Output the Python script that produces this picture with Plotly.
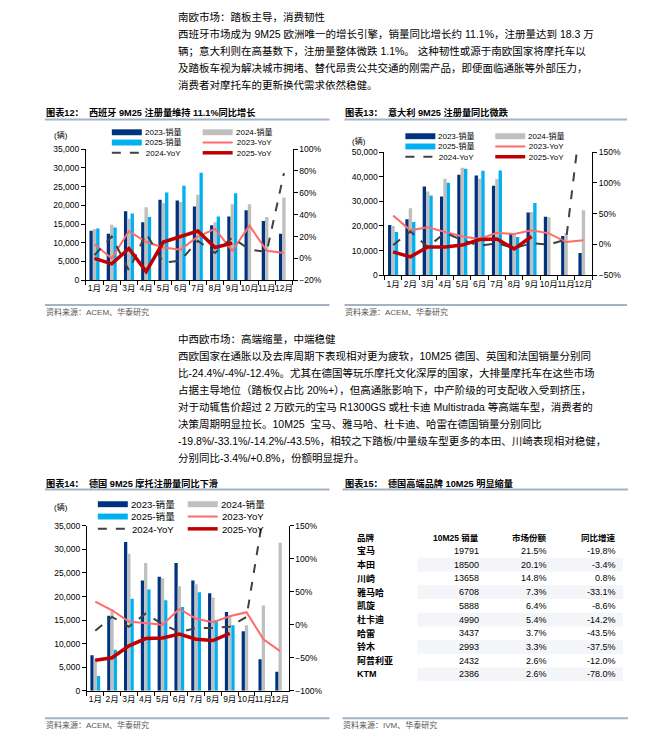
import plotly.graph_objects as go

W, H = 672, 745
LATIN = "Liberation Sans, Arial, Noto Sans CJK SC, sans-serif"

MONTHS = [f"{i}月" for i in range(1, 13)]

# 图表12 西班牙
ES_2023 = [13200, 12400, 18400, 15500, 21500, 21300, 19700, 14700, 17000, 18700, 15800, 12400]
ES_2024 = [13700, 14800, 16400, 19500, 20600, 20900, 22800, 15500, 20300, 20300, 16900, 22100]
ES_2025 = [13800, 14100, 17800, 16900, 23400, 25200, 28700, 17000, 23200, None, None, None]
ES_YOY_2023 = [13, 0, 25, 15, 10, 8, 20, 27, 7, 30, 7, 5]
ES_YOY_2024 = [3, 20, -11, 23, -4, -2, 16, 5, 19, 8, 6, 78]
ES_YOY_2025 = [0, -5, 9, -12, 15, 20, 25, 10, 14, None, None, None]

# 图表13 意大利
IT_2023 = [20400, 22700, 36000, 32000, 40800, 40500, 36300, 17200, 25500, 23700, 15900, 9100]
IT_2024 = [20000, 27200, 34000, 39200, 43600, 39300, 39100, 16700, 25700, 23500, 17100, 26400]
IT_2025 = [17600, 21600, 32400, 37500, 43200, 42400, 42500, 15500, 29300, None, None, None]
IT_YOY_2023 = [47, 23, 28, 21, 13, 9, 19, 17, 23, 18, 4, 7]
IT_YOY_2024 = [-1, 21, -4, 19, 7, -2, 2, -6, 2, 0, 8, 240]
IT_YOY_2025 = [-12, -20, -4, -4, -1, 8, 9, -7, 13, None, None, None]

# 图表14 德国
DE_2023 = [7500, 15900, 31600, 23400, 24200, 27100, 23400, 20700, 16700, 12600, 6700, 4000]
DE_2024 = [6800, 17300, 29100, 27100, 23900, 22200, 22600, 19800, 15700, 13900, 18100, 31400]
DE_2025 = [3100, 8700, 19500, 21500, 19200, 17800, 20900, 15000, 13900, None, None, None]
DE_YOY_2023 = [35, 22, 5, 2, 0, 24, 9, 4, 13, 19, -22, -40]
DE_YOY_2024 = [-9, 12, -3, 17, 1, -11, -5, -5, -3, 12, 168, 680]
DE_YOY_2025 = [-54, -50, -32, -21, -20, -14, -22, -24, -13, None, None, None]

# 图表15 德国高端品牌
BRANDS = ["宝马", "本田", "川崎", "雅马哈", "凯旋", "杜卡迪", "哈雷", "铃木", "阿普利亚", "KTM"]
SALES_10M25 = [19791, 18500, 13658, 6708, 5888, 4990, 3437, 2993, 2432, 2386]
SHARE = ["21.5%", "20.1%", "14.8%", "7.3%", "6.4%", "5.4%", "3.7%", "3.3%", "2.6%", "2.6%"]
YOY_10M25 = ["-19.8%", "-3.4%", "0.8%", "-33.1%", "-8.6%", "-14.2%", "-43.5%", "-37.5%", "-12.0%", "-78.0%"]
TABLE_HEAD = ["品牌", "10M25 销量", "市场份额", "同比增速"]

TEXT_SOUTH = [
    "南欧市场：踏板主导，消费韧性",
    "西班牙市场成为 9M25 欧洲唯一的增长引擎，销量同比增长约 11.1%，注册量达到 18.3 万",
    "辆；意大利则在高基数下，注册量整体微跌 1.1%。 这种韧性或源于南欧国家将摩托车以",
    "及踏板车视为解决城市拥堵、替代昂贵公共交通的刚需产品，即便面临通胀等外部压力，",
    "消费者对摩托车的更新换代需求依然稳健。",
]
TEXT_WEST = [
    "中西欧市场：高端缩量，中端稳健",
    "西欧国家在通胀以及去库周期下表现相对更为疲软，10M25 德国、英国和法国销量分别同",
    "比-24.4%/-4%/-12.4%。尤其在德国等玩乐摩托文化深厚的国家，大排量摩托车在这些市场",
    "占据主导地位（踏板仅占比 20%+），但高通胀影响下，中产阶级的可支配收入受到挤压，",
    "对于动辄售价超过 2 万欧元的宝马 R1300GS 或杜卡迪 Multistrada 等高端车型，消费者的",
    "决策周期明显拉长。10M25  宝马、雅马哈、杜卡迪、哈雷在德国销量分别同比",
    "-19.8%/-33.1%/-14.2%/-43.5%，相较之下踏板/中量级车型更多的本田、川崎表现相对稳健，",
    "分别同比-3.4%/+0.8%，份额明显提升。",
]

C2023, C2024, C2025 = "#00337F", "#BFBFBF", "#00B0F0"
L2023, L2024, L2025 = "#FF6B6B", "#404040", "#C00000"
RULE = "#A3B3C7"
STRIPE = "#F3F5F9"


def px(x):
    return x / W


def py(y):
    return 1 - y / H


fig = go.Figure()
shapes, notes = [], []


def text(x, y, s, size=10.5, bold=False, color="#000", anchor="left"):
    if bold:
        s = f"<b>{s}</b>"
    notes.append(dict(x=px(x), y=py(y), xref="paper", yref="paper", text=s, showarrow=False,
                      xanchor=anchor, yanchor="middle", borderpad=0,
                      font=dict(size=size, color=color, family=LATIN)))


def rule(x0, x1, y):
    shapes.append(dict(type="line", xref="paper", yref="paper", x0=px(x0), x1=px(x1), y0=py(y), y1=py(y),
                       line=dict(color=RULE, width=2)))


def legend(cols, y_top, size):
    items = [("bar", C2023, "2023-销量"), ("bar", C2024, "2024-销量"), ("bar", C2025, "2025-销量"),
             ("line", L2023, "2023-YoY"), ("dash", L2024, "2024-YoY"), ("line", L2025, "2025-YoY")]
    step = 1.3 * size
    for col in range(2):
        x0 = cols[col]
        labels = []
        for row in range(3):
            kind, c, label = items[row * 2 + col]
            y = y_top + row * step
            labels.append(label)
            if kind == "bar":
                shapes.append(dict(type="rect", xref="paper", yref="paper", x0=px(x0), x1=px(x0 + 30),
                                   y0=py(y - 3), y1=py(y + 3), fillcolor=c, line=dict(width=0)))
            else:
                w = 3.5 if c == L2025 else 2
                shapes.append(dict(type="line", xref="paper", yref="paper", x0=px(x0), x1=px(x0 + 30),
                                   y0=py(y), y1=py(y),
                                   line=dict(color=c, width=w, dash="dash" if kind == "dash" else "solid")))
        text(x0 + 32, y_top + step, "<br>".join(labels), size=size)


def chart(k, box, bars, yoys, lrange, ldtick, rrange, rdtick):
    xa = "x" if k == 1 else f"x{k}"
    yl = "y" if k == 1 else f"y{2 * k - 1}"
    yr = f"y{2 * k}"
    for vals, c in zip(bars, [C2023, C2024, C2025]):
        fig.add_trace(go.Bar(x=MONTHS, y=vals, marker=dict(color=c, line=dict(width=0)),
                             xaxis=xa, yaxis=yl, showlegend=False))
    for vals, c, w, d in zip(yoys, [L2023, L2024, L2025], [2, 2, 3.5], ["solid", "dash", "solid"]):
        fig.add_trace(go.Scatter(x=MONTHS, y=vals, mode="lines", line=dict(color=c, width=w, dash=d),
                                 xaxis=xa, yaxis=yr, showlegend=False))
    x0, x1, y0, y1 = box
    axfont = dict(size=8.5, color="#000", family=LATIN)
    common = dict(showline=True, linecolor="#000", linewidth=1, ticks="outside", ticklen=4,
                  tickcolor="#000", showgrid=False, zeroline=False, tickfont=axfont)
    fig.update_layout({
        ("xaxis" if k == 1 else f"xaxis{k}"): dict(domain=[px(x0), px(x1)], anchor=yl, tickangle=0,
                                                   tickson="boundaries", **common),
        ("yaxis" if k == 1 else f"yaxis{2 * k - 1}"): dict(domain=[py(y1), py(y0)], anchor=xa,
                                                          range=lrange, dtick=ldtick, tickformat=",",
                                                          **common),
        f"yaxis{2 * k}": dict(overlaying=yl, side="right", anchor=xa, range=rrange, dtick=rdtick,
                              ticksuffix="%", **common),
    })


# text blocks
for i, s in enumerate(TEXT_SOUTH):
    text(177, 12.5 + i * 17.2, s)
for i, s in enumerate(TEXT_WEST):
    text(177, 338.5 + i * 17.2, s)

# 图表12
text(45, 109, "图表12：  西班牙 9M25 注册量维持 11.1%同比增长", size=9.2, bold=True)
rule(45, 330, 116)
text(53, 132, "(辆)", size=8)
legend([112, 203], 129, 8)
chart(1, (86, 293, 146, 279), [ES_2023, ES_2024, ES_2025], [ES_YOY_2023, ES_YOY_2024, ES_YOY_2025],
      [0, 35000], 5000, [-20, 100], 20)
rule(45, 330, 304)
text(45, 311, "资料来源：ACEM、华泰研究", size=8, color="#555")

# 图表13
text(345, 109, "图表13：  意大利 9M25 注册量同比微跌", size=9.2, bold=True)
rule(345, 628, 116)
text(352, 138, "(辆)", size=8)
legend([406, 496], 133, 8)
chart(2, (385, 593, 149, 274), [IT_2023, IT_2024, IT_2025], [IT_YOY_2023, IT_YOY_2024, IT_YOY_2025],
      [0, 50000], 10000, [-50, 150], 50)
rule(345, 628, 304)
text(345, 311, "资料来源：ACEM、华泰研究", size=8, color="#555")

# 图表14
text(45, 485, "图表14：  德国 9M25 摩托注册量同比下滑", size=9.2, bold=True)
rule(45, 330, 491)
text(53, 509, "(辆)", size=8)
legend([98, 188], 506, 9.6)
chart(3, (87, 289, 528, 695), [DE_2023, DE_2024, DE_2025], [DE_YOY_2023, DE_YOY_2024, DE_YOY_2025],
      [0, 35000], 5000, [-100, 150], 50)
rule(45, 330, 723)
text(45, 730, "资料来源：ACEM、华泰研究", size=8, color="#555")

# 图表15 table
text(345, 485, "图表15：  德国高端品牌 10M25 明显缩量", size=9.2, bold=True)
rule(343, 629, 491)
COL_X = [357, 481, 549, 618]
COL_ANCHOR = ["left", "right", "right", "right"]
for x, a, h in zip(COL_X, COL_ANCHOR, TABLE_HEAD):
    text(x, 540, h, size=8.5, bold=True, anchor=a)
for i, row in enumerate(zip(BRANDS, SALES_10M25, SHARE, YOY_10M25)):
    y = 553.4 + i * 13.9
    if i % 2 == 1:
        shapes.append(dict(type="rect", xref="paper", yref="paper", x0=px(418), x1=px(624),
                           y0=py(y + 6.95), y1=py(y - 6.95), fillcolor=STRIPE, line=dict(width=0),
                           layer="below"))
    for x, a, v in zip(COL_X, COL_ANCHOR, row):
        text(x, y, str(v), size=9, anchor=a, bold=(a == "left"))
rule(343, 629, 723)
text(343, 730, "资料来源：IVM、华泰研究", size=8, color="#555")

fig.update_layout(
    width=W, height=H, margin=dict(l=0, r=0, t=0, b=0), autosize=False,
    paper_bgcolor="white", plot_bgcolor="rgba(0,0,0,0)",
    barmode="group", bargap=0.42, bargroupgap=0,
    shapes=shapes, annotations=notes,
    font=dict(family=LATIN),
)

# page body has a default 8px margin; drop it so the figure sits at the window origin
fig.write_html("out.html", config={"displayModeBar": False},
               post_script="document.body.style.margin='0';")
